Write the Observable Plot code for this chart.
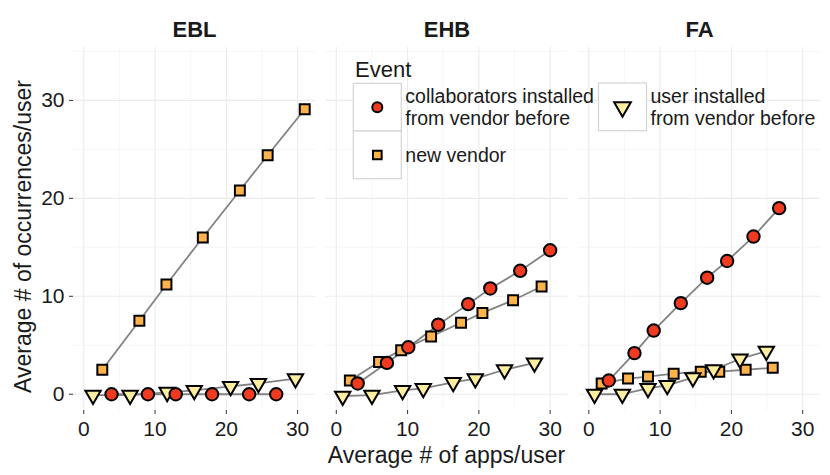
<!DOCTYPE html>
<html><head><meta charset="utf-8">
<script src="https://cdn.jsdelivr.net/npm/d3@7"></script>
<script src="https://cdn.jsdelivr.net/npm/@observablehq/plot@0.6"></script>
<style>body{margin:0;background:#fff;} svg{overflow:visible;}</style>
</head><body><div id="chart"></div>
<script>
const panels = ["EBL", "EHB", "FA"];
const seriesNames = ["collaborators installed from vendor before", "new vendor", "user installed from vendor before"];
const legendLines = [["collaborators installed", "from vendor before"], ["new vendor"], ["user installed", "from vendor before"]];
const seriesFill = ["#f03b20", "#feb24c", "#ffeda0"];
const xTicks = [0, 10, 20, 30];
const yTicks = [0, 10, 20, 30];
const xMinor = [5, 15, 25];
const yMinor = [5, 15, 25, 35];

// EBL
const eblCollabX = [3.9, 9.0, 12.9, 18.0, 23.2, 27.0];
const eblCollabY = [0, 0, 0, 0, 0, 0];
const eblNewX = [2.6, 7.8, 11.6, 16.7, 21.9, 25.8, 31.0];
const eblNewY = [2.5, 7.5, 11.2, 16.0, 20.8, 24.4, 29.1];
const eblUserX = [1.3, 6.5, 11.7, 15.5, 20.6, 24.5, 29.7];
const eblUserY = [-0.1, -0.1, 0.2, 0.4, 0.8, 1.1, 1.6];
// EHB
const ehbCollabX = [3.0, 7.1, 10.1, 14.3, 18.5, 21.6, 25.8, 30.0];
const ehbCollabY = [1.1, 3.2, 4.8, 7.1, 9.2, 10.8, 12.6, 14.7];
const ehbNewX = [1.9, 6.0, 9.1, 13.3, 17.5, 20.5, 24.8, 28.8];
const ehbNewY = [1.4, 3.3, 4.5, 5.9, 7.3, 8.3, 9.6, 11.0];
const ehbUserX = [0.9, 5.0, 9.3, 12.2, 16.4, 19.5, 23.6, 27.8];
const ehbUserY = [-0.2, -0.1, 0.4, 0.6, 1.2, 1.6, 2.5, 3.2];
// FA
const faCollabX = [2.8, 6.4, 9.1, 12.9, 16.6, 19.4, 23.1, 26.7];
const faCollabY = [1.4, 4.2, 6.5, 9.3, 11.9, 13.6, 16.1, 19.0];
const faNewX = [1.8, 5.5, 8.3, 11.9, 15.7, 18.3, 22.0, 25.8];
const faNewY = [1.1, 1.6, 1.8, 2.1, 2.3, 2.3, 2.5, 2.7];
const faUserX = [0.8, 4.7, 8.3, 11.0, 14.6, 17.5, 21.2, 24.9];
const faUserY = [0.0, 0.0, 0.6, 0.9, 1.7, 2.5, 3.6, 4.4];

const rows = [];
function add(panel, series, xs, ys) { xs.forEach((x, i) => rows.push({panel, series, x, y: ys[i]})); }
add(panels[0], seriesNames[0], eblCollabX, eblCollabY);
add(panels[0], seriesNames[1], eblNewX, eblNewY);
add(panels[0], seriesNames[2], eblUserX, eblUserY);
add(panels[1], seriesNames[0], ehbCollabX, ehbCollabY);
add(panels[1], seriesNames[1], ehbNewX, ehbNewY);
add(panels[1], seriesNames[2], ehbUserX, ehbUserY);
add(panels[2], seriesNames[0], faCollabX, faCollabY);
add(panels[2], seriesNames[1], faNewX, faNewY);
add(panels[2], seriesNames[2], faUserX, faUserY);

const triangleDown = {
  draw(ctx, size) {
    const t = Math.sqrt(size / (Math.sqrt(3) * 3));
    ctx.moveTo(0, 2 * t);
    ctx.lineTo(Math.sqrt(3) * t, -t);
    ctx.lineTo(-Math.sqrt(3) * t, -t);
    ctx.closePath();
  }
};
const symbols = ["circle", "square", triangleDown];
const radii = [6.2, 5.6, 5.7];

const font = "'Liberation Sans', Arial, sans-serif";
const bySeries = (i) => rows.filter(d => d.series === seriesNames[i]);
const dotMark = (i) => Plot.dot(bySeries(i), {
  x: "x", y: "y", fx: "panel", symbol: symbols[i], r: radii[i],
  fill: seriesFill[i], stroke: "black", strokeWidth: 2
});

const chart = Plot.plot({
  width: 830, height: 475,
  marginLeft: 73, marginRight: 10, marginTop: 47, marginBottom: 65,
  style: {fontFamily: font, color: "#1a1a1a", background: "white"},
  fx: {domain: panels, paddingInner: 0.042, paddingOuter: 0, round: false, label: null},
  x: {domain: [-1.44, 32.5]},
  y: {domain: [-1.66, 35.4]},
  marks: [
    Plot.gridX(xMinor, {stroke: "#f4f4f4", strokeOpacity: 1, strokeWidth: 0.8}),
    Plot.gridY(yMinor, {stroke: "#f4f4f4", strokeOpacity: 1, strokeWidth: 0.8}),
    Plot.gridX(xTicks, {stroke: "#ebebeb", strokeOpacity: 1, strokeWidth: 1.1}),
    Plot.gridY(yTicks, {stroke: "#ebebeb", strokeOpacity: 1, strokeWidth: 1.1}),
    Plot.line(rows, {x: "x", y: "y", z: "series", fx: "panel", stroke: "#828282", strokeWidth: 1.8}),
    dotMark(1),
    dotMark(2),
    dotMark(0),
    Plot.axisX({ticks: xTicks, tickSize: 4, tickPadding: 7, fontSize: 21, label: null, stroke: "#333"}),
    Plot.axisY({ticks: yTicks, tickSize: 4, tickPadding: 5, fontSize: 21, label: null, stroke: "#333"}),
    Plot.axisFx({anchor: "top", tickSize: 0, tickPadding: 11, fontSize: 22, fontWeight: "bold", label: null})
  ]
});

const svg = d3.select(chart);
svg.append("text").attr("x", 446.5).attr("y", 463).attr("text-anchor", "middle")
  .attr("font-size", 23).attr("fill", "#1a1a1a").attr("font-family", font)
  .text("Average # of apps/user");
svg.append("text").attr("transform", "translate(31,236.5) rotate(-90)").attr("text-anchor", "middle")
  .attr("font-size", 23).attr("fill", "#1a1a1a").attr("font-family", font)
  .text("Average # of occurrences/user");

const lg = svg.append("g").attr("font-family", font).attr("fill", "#1a1a1a").attr("text-anchor", "start");
lg.append("text").attr("x", 355).attr("y", 77).attr("font-size", 22).text("Event");
const keys = [
  {x: 353.3, y: 83.3, r: 5},
  {x: 353.3, y: 131, r: 4.9},
  {x: 598.5, y: 83, r: 6.2}
];
keys.forEach((k, i) => {
  lg.append("rect").attr("x", k.x).attr("y", k.y).attr("width", 48).attr("height", 47.7)
    .attr("fill", "white").attr("stroke", "#d4d4d4").attr("stroke-width", 1.2);
  const type = i === 0 ? d3.symbolCircle : i === 1 ? d3.symbolSquare : triangleDown;
  lg.append("path").attr("transform", `translate(${k.x + 24},${k.y + 24})`)
    .attr("d", d3.symbol(type, k.r * k.r * Math.PI)())
    .attr("fill", seriesFill[i]).attr("stroke", "black").attr("stroke-width", 2);
  const lines = legendLines[i];
  lines.forEach((ln, j) => {
    const base = lines.length === 1 ? k.y + 30.7 : k.y + 20 + j * 21.7;
    lg.append("text").attr("x", k.x + 52).attr("y", base).attr("font-size", 19.5)
      .attr("text-anchor", "start").text(ln);
  });
});

document.getElementById("chart").appendChild(chart);
</script>
</body></html>
